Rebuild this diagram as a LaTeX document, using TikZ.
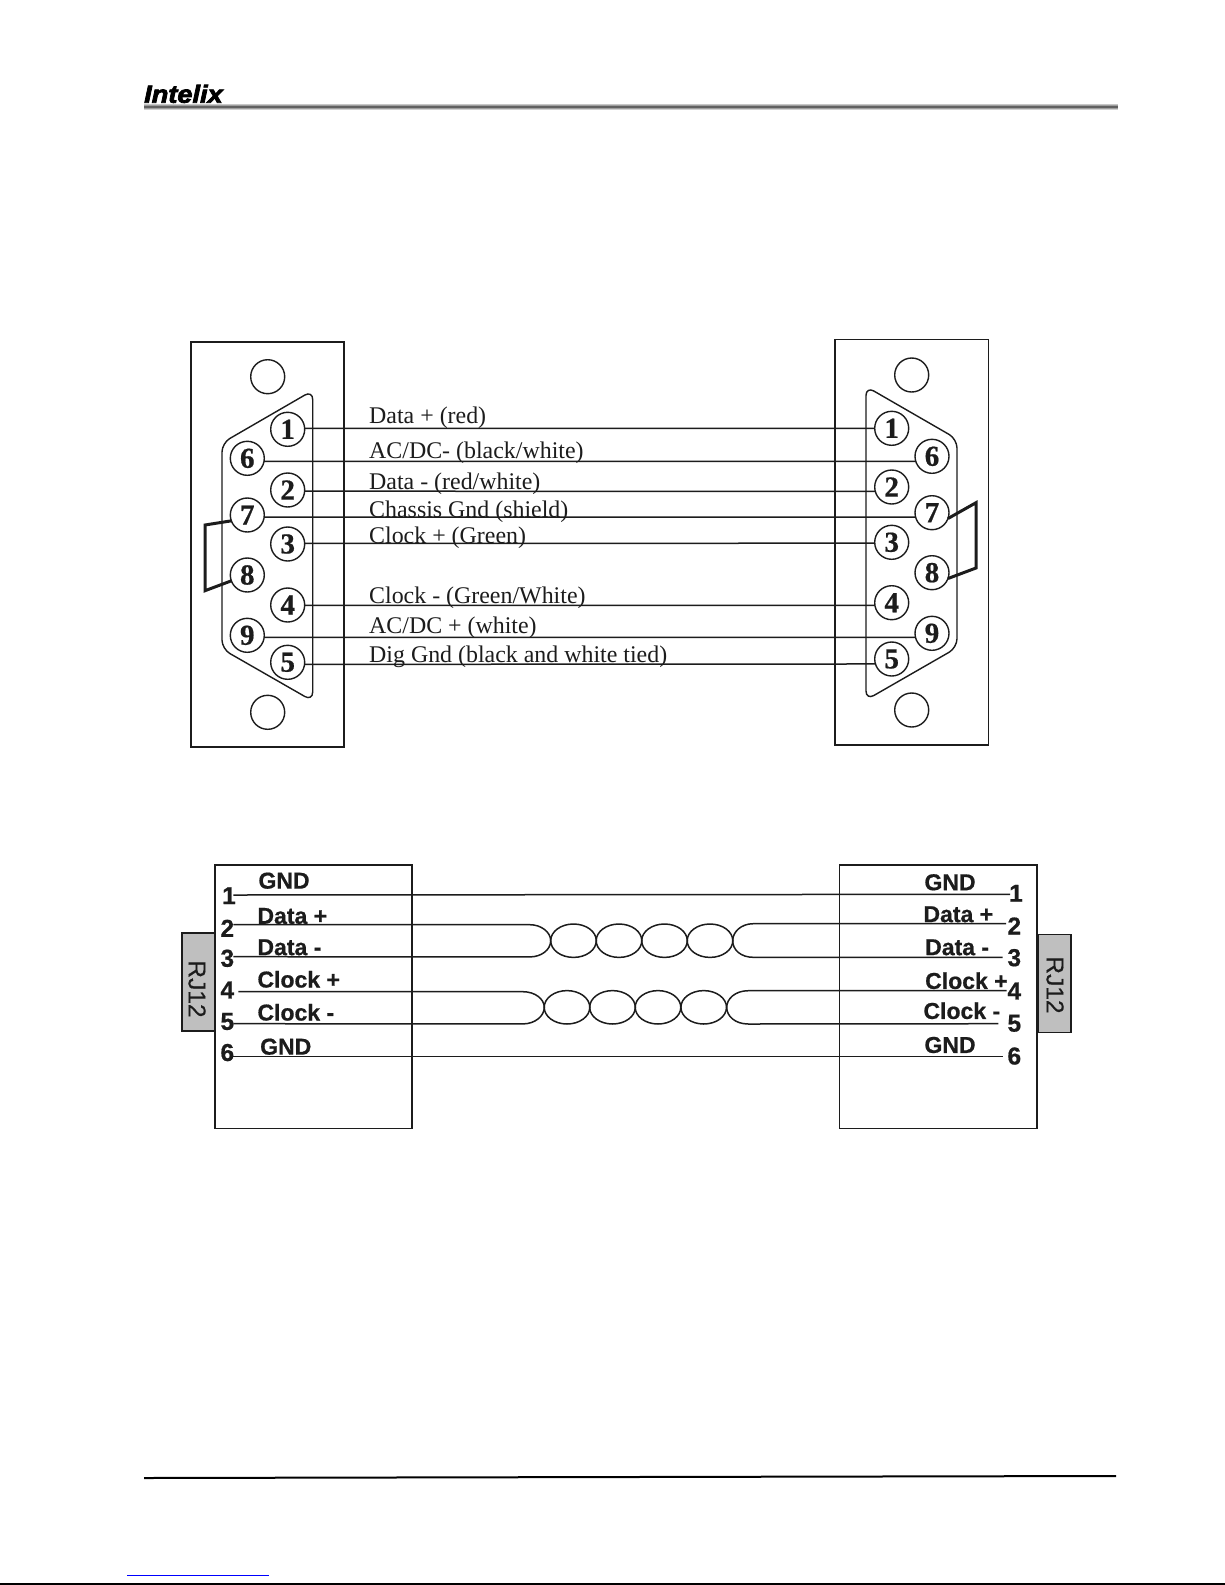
\documentclass[tikz,border=0pt]{standalone}
\usepackage{fontspec}
\setmainfont{Liberation Serif}[BoldFeatures={FakeBold=0.6}]
\newfontfamily\sansf{Liberation Sans}[BoldFeatures={FakeBold=0.7}]
\newfontfamily\sansrj{Liberation Sans}[FakeBold=0.4]
\newfontfamily\logof{Liberation Sans}[BoldItalicFeatures={FakeBold=3.2,FakeStretch=1.1}]
\definecolor{ink}{HTML}{1C1C1C}
\tikzset{
  pinring/.style={circle,draw=ink,line width=1.4pt,minimum size=34pt,inner sep=0pt,outer sep=0pt,text=ink,
    font=\fontsize{29}{29}\selectfont\bfseries},
  panel/.style={draw=ink,line width=1.6pt},
  hole/.style={circle,draw=ink,line width=1.4pt,minimum size=34pt,inner sep=0pt,outer sep=0pt},
  shell/.style={draw=ink,line width=1.4pt,rounded corners=9pt},
  wire/.style={draw=ink,line width=1.5pt},
  jumper/.style={draw=ink,line width=3pt,line join=miter},
  serlab/.style={anchor=base west,inner sep=0pt,text=ink,font=\fontsize{23.9}{24}\selectfont},
  boldlab/.style={anchor=west,inner sep=0pt,text=ink,font=\fontsize{23}{23}\selectfont\sansf\bfseries},
  boldnum/.style={inner sep=0pt,text=ink,font=\fontsize{24.5}{24}\selectfont\sansf\bfseries},
  rjbox/.style={draw=ink,fill=black!25,line width=1.6pt},
  rjtext/.style={inner sep=0pt,text=ink,font=\fontsize{24.5}{24}\selectfont\sansrj,rotate=-90},
}
\begin{document}
\begin{tikzpicture}[x=1pt,y=-1pt]
\useasboundingbox (0,0) rectangle (1225,1585);
\fill[white] (0,0) rectangle (1225,1585);

% header
\node[anchor=base west,inner sep=0pt,text=black,font=\fontsize{24.7}{25}\selectfont\logof\bfseries\itshape] (logo) at (144,102.7) {Intelix};
\fill[black!22] (144,104) rectangle (1118,105.3);
\fill[black!38] (144,105.3) rectangle (1118,106.3);
\fill[black!62] (144,106.3) rectangle (1118,108);
\fill[black!38] (144,108) rectangle (1118,109);
\fill[black!18] (144,109) rectangle (1118,110);

% footer
\draw[black,line width=2pt] (144,1478) -- (1116,1476);
\draw[blue,line width=1.5pt] (127,1575.3) -- (269,1575.3);
\draw[black,line width=2pt] (0,1584) -- (1225,1584);

% left DB9
\draw[panel] (190.7,341.7) rectangle (344,746.7);
\node[hole] (lht) at (267.7,376.7) {};
\node[hole] (lhb) at (267.7,712.3) {};
\draw[shell] (312.7,390.5) -- (222,443) -- (222,649) -- (312.7,701) -- cycle;
\node[pinring] (L1) at (287.7,429.3) {1};
\node[pinring] (L6) at (247.3,458.3) {6};
\node[pinring] (L2) at (287.7,490) {2};
\node[pinring] (L7) at (247.3,515) {7};
\node[pinring] (L3) at (287.7,544) {3};
\node[pinring] (L8) at (247.3,575) {8};
\node[pinring] (L4) at (287.7,605) {4};
\node[pinring] (L9) at (247.3,635.3) {9};
\node[pinring] (L5) at (287.7,662.3) {5};

% right DB9
\draw[panel] (835,339.3) rectangle (988.3,744.7);
\node[hole] (rht) at (911.7,375) {};
\node[hole] (rhb) at (911.7,710) {};
\draw[shell] (866,386.5) -- (957,439) -- (957,647.7) -- (866,700) -- cycle;
\node[pinring] (R1) at (891.7,428.3) {1};
\node[pinring] (R6) at (932,456.3) {6};
\node[pinring] (R2) at (891.7,487) {2};
\node[pinring] (R7) at (932,512.7) {7};
\node[pinring] (R3) at (891.7,542.3) {3};
\node[pinring] (R8) at (932,572.7) {8};
\node[pinring] (R4) at (891.7,602.7) {4};
\node[pinring] (R9) at (932,633.3) {9};
\node[pinring] (R5) at (891.7,659) {5};

% DB9 wires
\draw[wire] (L1.3) -- (R1.180);
\draw[wire] (L6.-10) -- (R6.197);
\draw[wire] (L2.-4) -- (R2.195);
\draw[wire] (L7.-7) -- (R7.195);
\draw[wire] (L3.2) -- (R3.183);
\draw[wire] (L4.-1) -- (R4.189);
\draw[wire] (L9.-7) -- (R9.194);
\draw[wire] (L5.-7) -- (R5.197);

% jumpers
\coordinate (jl1) at (205,525);
\coordinate (jl2) at (205,590.7);
\draw[jumper] (L7.200) -- (jl1) -- (jl2) -- (L8.200);
\coordinate (jr1) at (976,502.7);
\coordinate (jr2) at (976,568);
\draw[jumper] (R7.-20) -- (jr1) -- (jr2) -- (R8.-20);

% DB9 labels
\node[serlab] (t1) at (369,423) {Data + (red)};
\node[serlab] (t2) at (369,458) {AC/DC- (black/white)};
\node[serlab] (t3) at (369,489) {Data - (red/white)};
\node[serlab] (t4) at (369,517) {Chassis Gnd (shield)};
\node[serlab] (t5) at (369,543) {Clock + (Green)};
\node[serlab] (t6) at (369,603) {Clock - (Green/White)};
\node[serlab] (t7) at (369,633) {AC/DC + (white)};
\node[serlab] (t8) at (369,662) {Dig Gnd (black and white tied)};

% lower boxes
\draw[panel] (215,864.7) rectangle (412,1128.3);
\draw[panel] (839.3,864.7) rectangle (1036.7,1128.3);
\draw[rjbox] (181.7,932.7) rectangle (215,1031);
\draw[rjbox] (1038.3,934.3) rectangle (1071,1032.3);
\node[rjtext] (rjl) at (197,989) {RJ12};
\node[rjtext] (rjr) at (1055,985) {RJ12};

% lower digits
\node[boldnum] (a1) at (229,895.7) {1};
\node[boldnum] (a2) at (227.3,928.3) {2};
\node[boldnum] (a3) at (227.3,958.3) {3};
\node[boldnum] (a4) at (227.3,990) {4};
\node[boldnum] (a5) at (227.3,1021.5) {5};
\node[boldnum] (a6) at (227.3,1052.5) {6};
\node[boldnum] (b1) at (1016,893.3) {1};
\node[boldnum] (b2) at (1014.3,926) {2};
\node[boldnum] (b3) at (1014.3,957.7) {3};
\node[boldnum] (b4) at (1014.3,991) {4};
\node[boldnum] (b5) at (1014.3,1023.3) {5};
\node[boldnum] (b6) at (1014.3,1056) {6};

% lower labels
\node[boldlab] (gl1) at (258.3,880.7) {GND};
\node[boldlab] (gl2) at (257.3,916) {Data +};
\node[boldlab] (gl3) at (257.3,947.3) {Data -};
\node[boldlab] (gl4) at (257.3,979.3) {Clock +};
\node[boldlab] (gl5) at (257.3,1012.3) {Clock -};
\node[boldlab] (gl6) at (260,1046.7) {GND};
\node[boldlab] (gr1) at (924.3,882.3) {GND};
\node[boldlab] (gr2) at (923.3,914.3) {Data +};
\node[boldlab] (gr3) at (925,947.3) {Data -};
\node[boldlab] (gr4) at (925,980.7) {Clock +};
\node[boldlab] (gr5) at (923.3,1010.7) {Clock -};
\node[boldlab] (gr6) at (924.3,1045) {GND};

% wire end points
\coordinate (wa1) at (233.3,895);
\coordinate (wa2) at (233.3,924.7);
\coordinate (wa3) at (233.3,956.7);
\coordinate (wa4) at (238.3,991.7);
\coordinate (wa5) at (233.3,1023.7);
\coordinate (wa6) at (233.3,1056.7);
\coordinate (wb1) at (1010,894.3);
\coordinate (wb2) at (1006,923.7);
\coordinate (wb3) at (1002.7,957.3);
\coordinate (wb4) at (1006.7,990.7);
\coordinate (wb5) at (998.3,1023.7);
\coordinate (wb6) at (1002.7,1056.7);

% straight wires
\draw[wire] (wa1) -- (wb1);
\draw[wire] (wa6) -- (wb6);

% twisted pair 1
\coordinate (p1) at (550.7,940.7);
\coordinate (p2) at (732.7,940.7);
\draw[wire] (wa2) -- (530,924.7) .. controls (541,924.7) and (550.7,932) .. (p1);
\draw[wire] (wa3) -- (530,956.9) .. controls (541,956.9) and (550.7,950) .. (p1);
\draw[wire] (wb2) -- (753.3,923.7) .. controls (741,923.7) and (732.7,932) .. (p2);
\draw[wire] (wb3) -- (753.3,957.3) .. controls (741,957.3) and (732.7,950) .. (p2);
\foreach \c in {573.5,619,664.5,710}
  \draw[wire] (\c,940.7) ellipse [x radius=22.8,y radius=16.7];

% twisted pair 2
\coordinate (q1) at (544.3,1007.3);
\coordinate (q2) at (726.7,1007.3);
\draw[wire] (wa4) -- (523,991.7) .. controls (535,991.7) and (544.3,999) .. (q1);
\draw[wire] (wa5) -- (523,1023.9) .. controls (535,1023.9) and (544.3,1016) .. (q1);
\draw[wire] (wb4) -- (748.3,990.7) .. controls (735,990.7) and (726.7,999) .. (q2);
\draw[wire] (wb5) -- (748.3,1024) .. controls (735,1024) and (726.7,1016) .. (q2);
\foreach \c in {567,612.5,658,703.7}
  \draw[wire] (\c,1007.3) ellipse [x radius=22.8,y radius=16.7];
\end{tikzpicture}
\end{document}
